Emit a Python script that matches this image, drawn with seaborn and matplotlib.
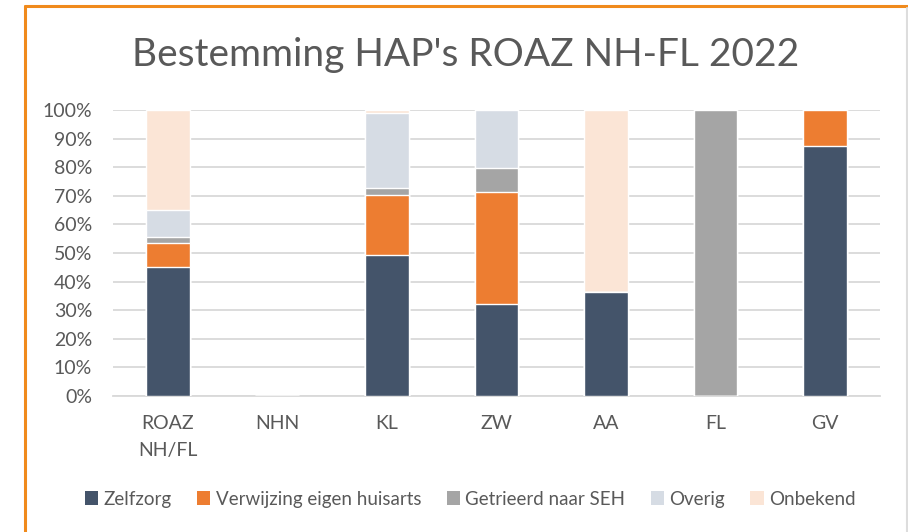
import matplotlib
matplotlib.use("Agg")
import matplotlib.pyplot as plt
from matplotlib.patches import Patch
from matplotlib.lines import Line2D
import numpy as np
import pandas as pd
import seaborn as sns

# Destination shares per region (percent)
categories = ["ROAZ\nNH/FL", "NHN", "KL", "ZW", "AA", "FL", "GV"]
series_names = ["Zelfzorg", "Verwijzing eigen huisarts", "Getrieerd naar SEH", "Overig", "Onbekend"]
zelfzorg = [45.0, 0.0, 49.4, 32.1, 36.2, 0.0, 87.3]
verwijzing = [8.5, 0.0, 21.0, 39.3, 0.0, 0.0, 12.7]
getrieerd = [2.2, 0.0, 2.5, 8.5, 0.0, 100.0, 0.0]
overig = [9.5, 0.0, 25.9, 20.0, 0.3, 0.0, 0.0]
onbekend = [34.8, 0.0, 1.2, 0.1, 63.5, 0.0, 0.0]
yticks = [0, 10, 20, 30, 40, 50, 60, 70, 80, 90, 100]

colors = ["#44546A", "#ED7D31", "#A5A5A5", "#D6DCE4", "#FBE5D6"]
text_color = "#595959"
grid_color = "#D9D9D9"

sns.set_theme(style="white")
plt.rcParams["font.family"] = ["Lato", "DejaVu Sans"]

values = np.array([zelfzorg, verwijzing, getrieerd, overig, onbekend])
tops = np.cumsum(values, axis=0)

df = pd.DataFrame({"categorie": categories})
for name, top in zip(series_names, tops):
    df[name] = top

fig = plt.figure(figsize=(9.08, 5.32), dpi=100)
ax = fig.add_axes([0.1245, 0.2556, 0.969 - 0.1245, 0.7932 - 0.2556])

# Stacked bars: draw cumulative totals from the top series downwards
for name, color in reversed(list(zip(series_names, colors))):
    sns.barplot(data=df, x="categorie", y=name, color=color, width=0.4,
                saturation=1, ax=ax, order=categories, zorder=3)

ax.set_ylim(0, 100)
ax.set_xlim(-0.5, len(categories) - 0.5)
ax.set_yticks(yticks)
ax.set_yticklabels([f"{v}%" for v in yticks])
ax.set_xlabel("")
ax.set_ylabel("")
ax.yaxis.grid(True, color=grid_color, linewidth=1.3, zorder=0)
ax.set_axisbelow(True)
for side in ["left", "right", "top"]:
    ax.spines[side].set_visible(False)
ax.spines["bottom"].set_color(grid_color)
ax.spines["bottom"].set_linewidth(1.3)
ax.tick_params(axis="both", length=0, labelsize=14, labelcolor=text_color)
ax.tick_params(axis="y", pad=15)
ax.tick_params(axis="x", pad=14)
for lbl in ax.get_xticklabels():
    lbl.set_linespacing(1.65)

fig.text(0.513, 0.897, "Bestemming HAP's ROAZ NH-FL 2022", ha="center", va="center",
         fontsize=28, color=text_color)

handles = [Patch(facecolor=c, edgecolor="none") for c in colors]
fig.legend(handles, series_names, loc="center", bbox_to_anchor=(0.518, 0.062),
           ncol=5, frameon=False, fontsize=13.5, labelcolor=text_color,
           handlelength=0.7, handleheight=0.7, handletextpad=0.3, columnspacing=1.35)

# Chart frame
fig.add_artist(Line2D([25 / 908, 25 / 908], [0, 1 - 6 / 532], transform=fig.transFigure,
                      color="#F08A1C", linewidth=2.2))
fig.add_artist(Line2D([25 / 908, 1], [1 - 6 / 532, 1 - 6 / 532], transform=fig.transFigure,
                      color="#F08A1C", linewidth=2.2))
fig.add_artist(Line2D([906.5 / 908, 906.5 / 908], [0, 1 - 8 / 532], transform=fig.transFigure,
                      color="#DDDDDD", linewidth=1.5))

fig.savefig("out.png", dpi=100, facecolor="white")
